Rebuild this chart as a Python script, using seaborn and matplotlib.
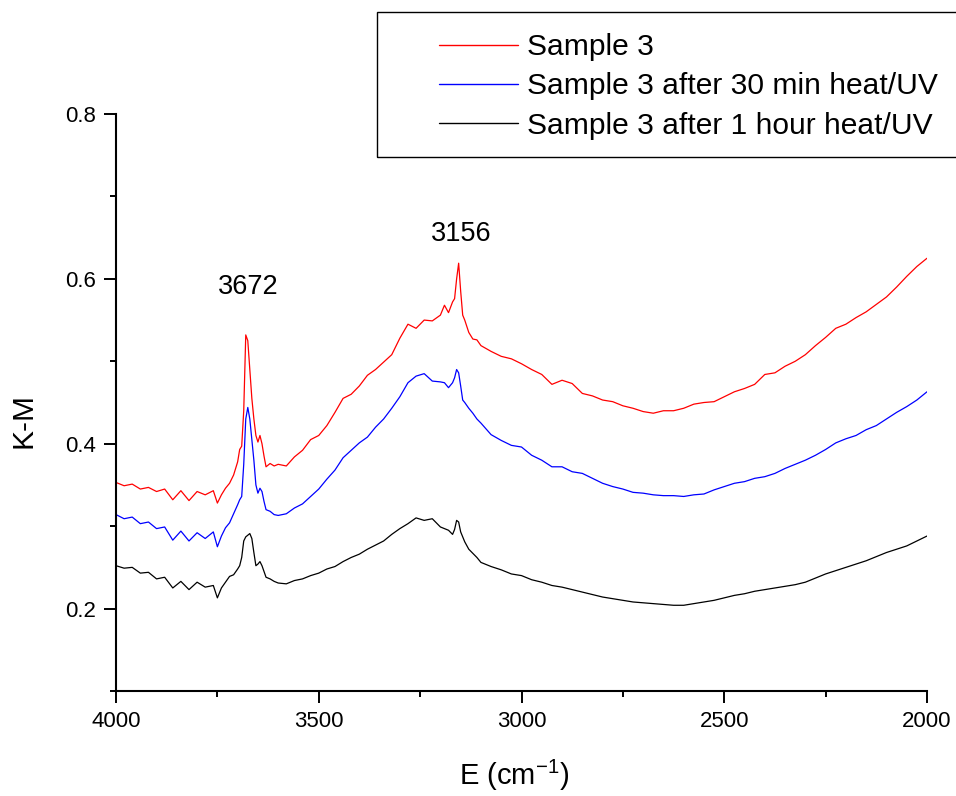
import numpy as np
import pandas as pd
import matplotlib
matplotlib.use("Agg")
import matplotlib.pyplot as plt
import seaborn as sns
from matplotlib.ticker import MultipleLocator
from matplotlib.patches import Rectangle

# ---------------- data ----------------
wavenumber = [4000, 3980, 3960, 3940, 3920, 3900, 3880, 3860, 3840, 3820, 3800, 3780, 3760,
              3750, 3740, 3730, 3720, 3710, 3700, 3695, 3690, 3685, 3680, 3675, 3670, 3665, 3660,
              3655, 3650, 3645, 3640, 3635, 3630, 3620, 3610, 3600,
              3580, 3560, 3540, 3520, 3500, 3480, 3460, 3440, 3420, 3400, 3380, 3360, 3340, 3320,
              3300, 3280, 3260, 3240, 3220, 3200,
              3190, 3180, 3170, 3165, 3160, 3155, 3150, 3145, 3140, 3130, 3120, 3110, 3100,
              3075, 3050, 3025, 3000, 2975, 2950, 2925, 2900, 2875, 2850, 2825, 2800, 2775, 2750,
              2725, 2700, 2675, 2650, 2625, 2600, 2575, 2550, 2525, 2500, 2475, 2450, 2425, 2400,
              2375, 2350, 2325, 2300, 2275, 2250, 2225, 2200, 2175, 2150, 2125, 2100, 2075, 2050,
              2025, 2000]

sample3 = [0.353, 0.349, 0.351, 0.345, 0.347, 0.342, 0.345, 0.332, 0.343, 0.331, 0.342, 0.338, 0.343,
           0.328, 0.338, 0.346, 0.352, 0.362, 0.378, 0.393, 0.397, 0.440, 0.532, 0.525, 0.490, 0.455, 0.430,
           0.410, 0.402, 0.410, 0.400, 0.385, 0.372, 0.376, 0.373, 0.375,
           0.373, 0.384, 0.392, 0.405, 0.410, 0.422, 0.438, 0.455, 0.460, 0.470, 0.483, 0.490, 0.499, 0.508,
           0.528, 0.545, 0.540, 0.550, 0.549, 0.556,
           0.568, 0.559, 0.572, 0.576, 0.600, 0.619, 0.585, 0.556, 0.550, 0.535, 0.527, 0.526, 0.519,
           0.512, 0.506, 0.503, 0.497, 0.490, 0.484, 0.472, 0.477, 0.473, 0.461, 0.458, 0.453, 0.451, 0.446,
           0.443, 0.439, 0.437, 0.440, 0.440, 0.443, 0.448, 0.450, 0.451, 0.457, 0.463, 0.467, 0.472, 0.484,
           0.486, 0.494, 0.500, 0.508, 0.519, 0.529, 0.540, 0.545, 0.553, 0.560, 0.569, 0.578, 0.590, 0.603,
           0.615, 0.625]

sample3_30min = [0.314, 0.309, 0.311, 0.303, 0.305, 0.297, 0.299, 0.283, 0.294, 0.282, 0.292, 0.285, 0.293,
                 0.275, 0.288, 0.298, 0.304, 0.315, 0.326, 0.332, 0.336, 0.375, 0.430, 0.444, 0.430, 0.405, 0.380,
                 0.350, 0.340, 0.346, 0.342, 0.330, 0.320, 0.318, 0.314, 0.313,
                 0.315, 0.322, 0.327, 0.336, 0.345, 0.357, 0.368, 0.383, 0.392, 0.401, 0.408, 0.420, 0.430, 0.443,
                 0.457, 0.474, 0.482, 0.485, 0.476, 0.475,
                 0.474, 0.468, 0.474, 0.480, 0.490, 0.486, 0.470, 0.453, 0.450, 0.443, 0.437, 0.430, 0.425,
                 0.411, 0.404, 0.398, 0.396, 0.386, 0.380, 0.372, 0.372, 0.366, 0.364, 0.358, 0.352, 0.348, 0.345,
                 0.341, 0.340, 0.338, 0.337, 0.337, 0.336, 0.338, 0.339, 0.344, 0.348, 0.352, 0.354, 0.358, 0.360,
                 0.364, 0.370, 0.375, 0.380, 0.386, 0.393, 0.401, 0.406, 0.410, 0.417, 0.422, 0.430, 0.438, 0.445,
                 0.453, 0.463]

sample3_1hour = [0.252, 0.249, 0.250, 0.243, 0.244, 0.236, 0.238, 0.225, 0.233, 0.223, 0.232, 0.226, 0.228,
                 0.213, 0.225, 0.232, 0.239, 0.241, 0.248, 0.252, 0.262, 0.282, 0.287, 0.289, 0.291, 0.285, 0.268,
                 0.252, 0.254, 0.257, 0.252, 0.245, 0.238, 0.236, 0.233, 0.231,
                 0.230, 0.234, 0.236, 0.240, 0.243, 0.248, 0.251, 0.257, 0.262, 0.266, 0.272, 0.277, 0.282, 0.290,
                 0.297, 0.303, 0.310, 0.307, 0.309, 0.299,
                 0.297, 0.295, 0.290, 0.296, 0.307, 0.305, 0.293, 0.287, 0.281, 0.272, 0.267, 0.262, 0.256,
                 0.251, 0.247, 0.242, 0.240, 0.235, 0.232, 0.228, 0.226, 0.223, 0.220, 0.217, 0.214, 0.212, 0.210,
                 0.208, 0.207, 0.206, 0.205, 0.204, 0.204, 0.206, 0.208, 0.210, 0.213, 0.216, 0.218, 0.221, 0.223,
                 0.225, 0.227, 0.229, 0.232, 0.237, 0.242, 0.246, 0.250, 0.254, 0.258, 0.263, 0.268, 0.272, 0.276,
                 0.282, 0.288]

series_labels = ["Sample 3", "Sample 3 after 30 min heat/UV", "Sample 3 after 1 hour heat/UV"]
series_colors = ["#FF0000", "#0000FF", "#000000"]
peak_labels = ["3672", "3156"]
peak_label_pos_x = [3675, 3148]
peak_label_pos_y = [0.590, 0.655]
x_ticks_major = 500
x_ticks_minor = 250
y_ticks_major = 0.2
y_ticks_minor = 0.1

# ---------------- build data frame ----------------
df = pd.DataFrame({"E": wavenumber,
                   series_labels[0]: sample3,
                   series_labels[1]: sample3_30min,
                   series_labels[2]: sample3_1hour})
long = df.melt(id_vars="E", var_name="Sample", value_name="KM")

# ---------------- style ----------------
sns.set_style("ticks")
plt.rcParams["font.family"] = ["Liberation Sans", "DejaVu Sans"]
plt.rcParams["mathtext.fontset"] = "custom"
plt.rcParams["mathtext.rm"] = "Liberation Sans"
plt.rcParams["mathtext.it"] = "Liberation Sans:italic"
plt.rcParams["text.color"] = "black"
plt.rcParams["axes.labelcolor"] = "black"
plt.rcParams["xtick.color"] = "black"
plt.rcParams["ytick.color"] = "black"
plt.rcParams["axes.edgecolor"] = "black"

fig = plt.figure(figsize=(9.56, 7.96), dpi=100)
ax = fig.add_axes([116 / 956, 1 - 691 / 796, (927 - 116) / 956, (691 - 114) / 796])

sns.lineplot(data=long, x="E", y="KM", hue="Sample", hue_order=series_labels,
             palette=dict(zip(series_labels, series_colors)), estimator=None,
             linewidth=0.9, ax=ax, legend=True)

ax.set_xlim(4000, 2000)
ax.set_ylim(0.1, 0.8)
ax.xaxis.set_major_locator(MultipleLocator(x_ticks_major))
ax.xaxis.set_minor_locator(MultipleLocator(x_ticks_minor))
ax.yaxis.set_major_locator(MultipleLocator(y_ticks_major))
ax.yaxis.set_minor_locator(MultipleLocator(y_ticks_minor))

sns.despine(ax=ax)
for s in ["left", "bottom"]:
    ax.spines[s].set_linewidth(1.5)
    ax.spines[s].set_color("black")
ax.tick_params(which="major", direction="out", length=8.6, width=1.4, labelsize=16, pad=6,
               colors="black", labelcolor="black")
ax.tick_params(which="minor", direction="out", length=4.3, width=1.4, colors="black")

ax.set_xlabel(r"E (cm$^{-1}$)", fontsize=21, color="black")
ax.set_ylabel("K-M", fontsize=21.5, color="black")
ax.xaxis.set_label_coords((514 - 116) / 811, (691 - 758) / 577)
ax.yaxis.set_label_coords((37 - 116) / 811, (691 - 420) / 577)

for t, x, y in zip(peak_labels, peak_label_pos_x, peak_label_pos_y):
    ax.text(x, y, t, ha="center", va="center", fontsize=19.5, color="black")

handles, labels = ax.get_legend_handles_labels()
leg = ax.legend(handles, labels, loc="upper left", bbox_to_anchor=(439 / 956, 1 - 33 / 796),
                bbox_transform=fig.transFigure, frameon=False, fontsize=21.6,
                handlelength=2.63, handletextpad=0.3, borderpad=0, labelspacing=0.38,
                borderaxespad=0)
for h in leg.get_lines():
    h.set_linewidth(1.0)
for txt in leg.get_texts():
    txt.set_color("black")

fig.patches.append(Rectangle((376.5 / 956, 1 - 157 / 796), 0.7, (157 - 12) / 796,
                             transform=fig.transFigure, fill=False, edgecolor="black",
                             linewidth=1.0, clip_on=False))

fig.savefig("out.png", dpi=100)
